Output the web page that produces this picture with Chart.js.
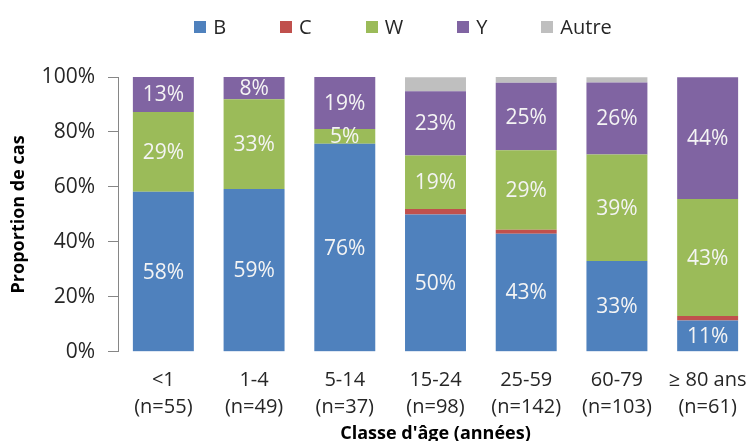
<!DOCTYPE html>
<html>
<head>
<meta charset="utf-8">
<script src="https://cdn.jsdelivr.net/npm/chart.js@4"></script>
<style>
    body { margin: 0; overflow: hidden; background: #fff; font-family: "Open Sans", sans-serif; }
    #wrap { position: absolute; left: 0; top: 0; width: 806px; height: 445px; }
    #legend { position: absolute; left: 0; top: 14px; width: 806px; display: flex; justify-content: center;
              font-size: 20px; line-height: 26px; color: #262626; }
    .item { display: flex; align-items: center; margin: 0 27px; }
    .box { width: 12px; height: 12px; margin-right: 7px; }
</style>
</head>
<body>
<div id="wrap">
    <canvas id="chart" width="806" height="445"></canvas>
    <div id="legend"></div>
</div>
<script>
// Répartition des sérogroupes par classe d'âge (% des cas)

const ageGroups = ["<1", "1-4", "5-14", "15-24", "25-59", "60-79", "≥ 80 ans"];
const caseCounts = ["(n=55)", "(n=49)", "(n=37)", "(n=98)", "(n=142)", "(n=103)", "(n=61)"];

const seriesNames = ["B", "C", "W", "Y", "Autre"];
const seriesColors = ["#4f81bd", "#c0504d", "#9bbb59", "#8064a2", "#bfbfbf"];

const pctB = [58.2, 59.2, 75.7, 50.0, 43.0, 33.0, 11.4];
const pctC = [0, 0, 0, 2.0, 1.4, 0, 1.6];
const pctW = [29.1, 32.7, 5.4, 19.4, 28.9, 38.8, 42.6];
const pctY = [12.7, 8.2, 18.9, 23.4, 24.6, 26.2, 44.3];
const pctAutre = [0, 0, 0, 5.1, 2.1, 1.9, 0];

const yTicks = [0, 20, 40, 60, 80, 100];

const seriesData = [pctB, pctC, pctW, pctY, pctAutre];
const labelled = [true, false, true, true, false];

const FONT = "'Open Sans', sans-serif";

// legend in html, Chart.js padding would blow up the height
const legendEl = document.getElementById("legend");
seriesNames.forEach((name, i) => {
    const item = document.createElement("div");
    item.className = "item";
    const box = document.createElement("span");
    box.className = "box";
    box.style.background = seriesColors[i];
    item.appendChild(box);
    item.appendChild(document.createTextNode(name));
    legendEl.appendChild(item);
});

// values written in the middle of each segment
const segmentLabels = {
    id: "segmentLabels",
    afterDatasetsDraw(chart) {
        const ctx = chart.ctx;
        ctx.save();
        ctx.font = "21px " + FONT;
        ctx.fillStyle = "#f4f4f4";
        ctx.textAlign = "center";
        ctx.textBaseline = "middle";
        chart.data.datasets.forEach((ds, di) => {
            if (!ds.showLabels) return;
            chart.getDatasetMeta(di).data.forEach((bar, i) => {
                const v = ds.data[i];
                if (!v) return;
                ctx.fillText(Math.round(v) + "%", bar.x, (bar.y + bar.base) / 2 + 1);
            });
        });
        ctx.restore();
    }
};

const datasets = seriesNames.map((name, i) => ({
    label: name,
    data: seriesData[i],
    backgroundColor: seriesColors[i],
    borderWidth: 0,
    barPercentage: 0.672,
    categoryPercentage: 1,
    showLabels: labelled[i]
}));

new Chart(document.getElementById("chart"), {
    type: "bar",
    data: {
        labels: ageGroups.map((g, i) => [g, caseCounts[i]]),
        datasets
    },
    options: {
        responsive: false,
        animation: false,
        devicePixelRatio: 1,
        layout: { padding: { top: 77, right: 53, bottom: 0, left: 0 } },
        plugins: {
            legend: { display: false },
            tooltip: { enabled: false }
        },
        scales: {
            x: {
                stacked: true,
                grid: { display: false, drawTicks: false },
                border: { display: false },
                ticks: {
                    padding: 15,
                    color: "#262626",
                    font: { family: FONT, size: 20, lineHeight: 1.365 },
                    maxRotation: 0,
                    autoSkip: false
                },
                title: {
                    display: true,
                    text: "Classe d'âge (années)",
                    color: "#000",
                    font: { family: FONT, size: 18, weight: "bold", lineHeight: 1.2 },
                    padding: { top: -13, bottom: 0 }
                }
            },
            y: {
                stacked: true,
                min: 0,
                max: 100,
                afterBuildTicks: scale => { scale.ticks = yTicks.map(v => ({ value: v })); },
                afterFit: scale => { scale.width = 118; },
                grid: { drawOnChartArea: false, drawTicks: true, tickLength: 10, color: "#868686" },
                border: { color: "#868686" },
                ticks: {
                    padding: 13,
                    color: "#262626",
                    font: { family: FONT, size: 21 },
                    callback: v => v + "%"
                },
                title: {
                    display: true,
                    text: "Proportion de cas",
                    color: "#000",
                    font: { family: FONT, size: 18, weight: "bold", lineHeight: 1.2 },
                    padding: { top: 8, bottom: 0 }
                }
            }
        }
    },
    plugins: [segmentLabels]
});
</script>
</body>
</html>
